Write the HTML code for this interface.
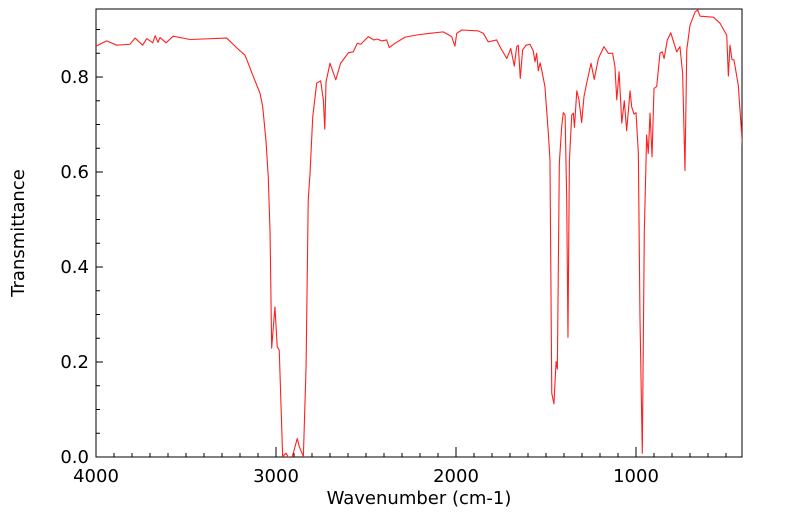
<!DOCTYPE html>
<html><head><meta charset="utf-8"><style>
html,body{margin:0;padding:0;background:#fff;}
svg text{font-family:"DejaVu Sans","Liberation Sans",sans-serif;fill:#000;}
</style></head><body>
<svg id="chart" width="799" height="516" xmlns="http://www.w3.org/2000/svg">
<defs><clipPath id="pc"><rect x="96" y="9" width="646" height="448"/></clipPath></defs>
<rect x="96" y="9" width="646" height="448" fill="#fff" stroke="#000" stroke-width="1"/>
<g id="ticks"></g>
<g id="labels"></g>
<path id="line" clip-path="url(#pc)" fill="none" stroke="#ff2020" stroke-width="1.1" stroke-linejoin="round"/>
<text x="419" y="504" font-size="18" text-anchor="middle">Wavenumber (cm-1)</text>
<text transform="translate(24,233) rotate(-90)" font-size="18" text-anchor="middle">Transmittance</text>
</svg>
<script>
const wavenumbers=[4000,3941,3885,3811,3783,3741,3718,3685,3671,3656,3644,3611,3571,3478,3274,3200,3172,3126,3089,3074,3056,3043,3033,3024,3006,2993,2982,2963,2944,2932,2909,2882,2871,2848,2833,2821,2811,2796,2774,2752,2737,2729,2722,2700,2668,2641,2598,2571,2548,2529,2487,2456,2437,2413,2385,2371,2339,2283,2209,2144,2071,2024,2006,1996,1968,1876,1848,1821,1774,1756,1718,1696,1676,1663,1654,1643,1630,1611,1589,1571,1561,1552,1543,1533,1522,1506,1487,1478,1468,1456,1444,1437,1426,1413,1404,1394,1385,1378,1370,1357,1348,1342,1329,1317,1302,1289,1274,1250,1232,1209,1178,1154,1130,1117,1107,1094,1079,1065,1052,1033,1024,1011,1000,987,978,965,954,941,932,922,911,900,885,867,854,844,826,807,774,756,741,728,718,700,672,657,644,570,533,496,487,478,467,456,432,407];
const transmittance=[0.865,0.876,0.867,0.869,0.882,0.867,0.881,0.872,0.887,0.873,0.883,0.872,0.886,0.879,0.882,0.855,0.846,0.801,0.766,0.738,0.667,0.590,0.472,0.229,0.316,0.232,0.225,0.001,0.008,0.0,0.001,0.039,0.022,0.001,0.190,0.541,0.597,0.716,0.787,0.792,0.752,0.690,0.790,0.829,0.794,0.829,0.851,0.853,0.871,0.869,0.885,0.878,0.880,0.876,0.878,0.862,0.871,0.884,0.889,0.892,0.895,0.885,0.865,0.892,0.899,0.897,0.892,0.874,0.878,0.864,0.839,0.860,0.823,0.864,0.867,0.797,0.857,0.867,0.869,0.855,0.832,0.850,0.813,0.830,0.811,0.780,0.681,0.625,0.134,0.112,0.201,0.185,0.618,0.695,0.725,0.720,0.541,0.252,0.625,0.720,0.724,0.694,0.771,0.752,0.704,0.759,0.787,0.829,0.795,0.839,0.864,0.850,0.850,0.822,0.752,0.811,0.703,0.750,0.687,0.771,0.737,0.722,0.725,0.639,0.295,0.008,0.471,0.678,0.639,0.724,0.632,0.776,0.780,0.850,0.853,0.839,0.878,0.893,0.853,0.864,0.808,0.603,0.857,0.909,0.937,0.941,0.928,0.926,0.913,0.888,0.802,0.867,0.837,0.836,0.783,0.646];
const xTickLabels=[4000,3000,2000,1000];
const yTickLabels=[0.0,0.2,0.4,0.6,0.8];
const X0=96,X1=742,Y0=457,Y1=9;
const xMax=4000,xMin=411.2,yMin=0,yMax=0.9432;
function sx(w){return X0+(xMax-w)/(xMax-xMin)*(X1-X0);}
function sy(t){return Y0-(t-yMin)/(yMax-yMin)*(Y0-Y1);}
const NS="http://www.w3.org/2000/svg";
let d="";
for(let i=0;i<wavenumbers.length;i++){d+=(i?"L":"M")+sx(wavenumbers[i]).toFixed(2)+" "+sy(transmittance[i]).toFixed(2);}
document.getElementById('line').setAttribute('d',d);
const tg=document.getElementById('ticks'),lg=document.getElementById('labels');
function ln(x1,y1,x2,y2){const l=document.createElementNS(NS,'line');l.setAttribute('x1',x1);l.setAttribute('y1',y1);l.setAttribute('x2',x2);l.setAttribute('y2',y2);l.setAttribute('stroke','#000');


tg.appendChild(l);}
for(let w=4000;w>=xMin;w-=100){const x=sx(w);const major=(w%1000===0);ln(x,Y0,x,Y0-(major?10:4));}
for(let k=0;k<=18;k++){const t=k*0.05;if(t>yMax)break;const y=sy(t);ln(X0,y,X0+(k%4===0?7:4),y);}
xTickLabels.forEach(v=>{const t=document.createElementNS(NS,'text');t.setAttribute('x',sx(v));t.setAttribute('y',482);t.setAttribute('font-size','18');t.setAttribute('text-anchor','middle');t.textContent=v;


lg.appendChild(t);});
yTickLabels.forEach(v=>{const t=document.createElementNS(NS,'text');t.setAttribute('x',89);t.setAttribute('y',sy(v)+6);t.setAttribute('font-size','18');t.setAttribute('text-anchor','end');t.textContent=v.toFixed(1);


lg.appendChild(t);});
</script>
</body></html>
